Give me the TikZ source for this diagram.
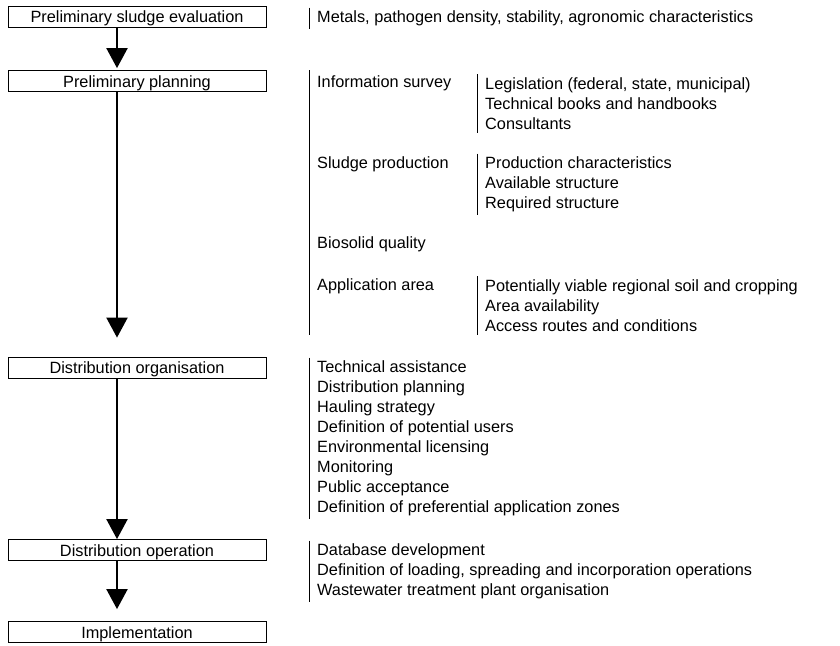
\documentclass[tikz,border=0pt]{standalone}
\usepackage{fontspec}
\setmainfont{Liberation Sans}
\usetikzlibrary{arrows.meta}

\tikzset{
  stage/.style={draw, line width=0.8pt, minimum width=258pt, minimum height=21pt, inner sep=0pt, text height=12pt, text depth=0pt},
  flow/.style={-{Triangle[width=21pt,length=20pt]}, line width=2pt},
  info/.style={anchor=west, align=left, inner xsep=8pt, inner ysep=3pt, yshift=-1.5pt},
  bar/.style={line width=0.8pt},
}

\begin{document}
\begin{tikzpicture}[x=1pt, y=-1pt, font=\fontsize{16.3}{20}\selectfont]
  \useasboundingbox (0,0) rectangle (840,645);

  % stages of the programme
  \node[stage] (eval) at (137,16.5) {Preliminary sludge evaluation};
  \node[stage] (plan) at (137,81) {Preliminary planning};
  \node[stage] (org) at (137,367.5) {Distribution organisation};
  \node[stage] (oper) at (137,550) {Distribution operation};
  \node[stage] (impl) at (137,632) {Implementation};

  % arrows between stages
  \foreach \from/\to/\gap in {eval/plan/2, plan/org/19, org/oper/0, oper/impl/12}
    \draw[flow, shorten >=\gap pt] ([xshift=-20pt]\from.south) -- ([xshift=-20pt]\to.north);

  % preliminary sludge evaluation
  \node[info] (metals) at (309,17) {Metals, pathogen density, stability, agronomic characteristics};
  \draw[bar] (metals.north west) -- (metals.south west);

  % preliminary planning
  \node[info] (survey) at (309,82) {Information survey};
  \node[info] (survey-l) at (477,102) {Legislation (federal, state, municipal)\\Technical books and handbooks\\Consultants};
  \draw[bar] (survey-l.north west) -- (survey-l.south west);

  \node[info] (sludge) at (309,163) {Sludge production};
  \node[info] (sludge-l) at (477,183) {Production characteristics\\Available structure\\Required structure};
  \draw[bar] (sludge-l.north west) -- (sludge-l.south west);

  \node[info] (quality) at (309,243) {Biosolid quality};

  \node[info] (area) at (309,285) {Application area};
  \node[info] (area-l) at (477,304) {Potentially viable regional soil and cropping\\Area availability\\Access routes and conditions};
  \draw[bar] (area-l.north west) -- (area-l.south west);

  \draw[bar] (survey.west |- plan.north) -- (survey.west |- area-l.south);

  % distribution organisation
  \node[info] (org-l) at (309,437) {Technical assistance\\Distribution planning\\Hauling strategy\\Definition of potential users\\Environmental licensing\\Monitoring\\Public acceptance\\Definition of preferential application zones};
  \draw[bar] (org-l.north west) -- (org-l.south west);

  % distribution operation
  \node[info] (oper-l) at (309,570) {Database development\\Definition of loading, spreading and incorporation operations\\Wastewater treatment plant organisation};
  \draw[bar] (oper-l.north west) -- (oper-l.south west);
\end{tikzpicture}
\end{document}
